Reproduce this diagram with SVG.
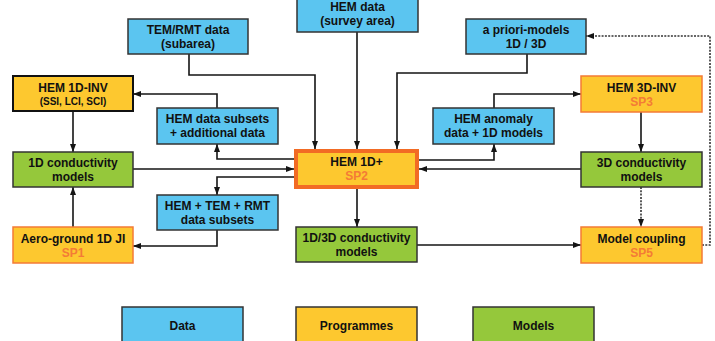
<svg xmlns="http://www.w3.org/2000/svg" width="715" height="341" viewBox="0 0 715 341">
<style>
text{font-family:"Liberation Sans",Arial,sans-serif;font-weight:bold;text-anchor:middle;fill:#111}
.t{font-size:12px}
.s{font-size:10px}
.sp{font-size:12px;fill:#F47B36}
.lg{font-size:12px}
.data{fill:#5BC5F0;stroke:#333;stroke-width:1.5}
.model{fill:#95C83B;stroke:#333;stroke-width:1.5}
.prog{fill:#FDC82F;stroke:#F47B36;stroke-width:1.5}
.c{fill:none;stroke:#151515;stroke-width:1.6}
.d{fill:none;stroke:#333;stroke-width:1.6;stroke-dasharray:2 1.3}
</style>
<defs>
<marker id="a" viewBox="0 0 8 8" refX="8" refY="4" markerWidth="8" markerHeight="8" markerUnits="userSpaceOnUse" orient="auto"><path d="M0,1 L8,4 L0,7 z" fill="#151515"/></marker>
</defs>
<rect width="715" height="341" fill="#fff"/>
<g id="connectors">
<path class="c" d="M189,54 V75 H315 V149" marker-end="url(#a)"/>
<path class="c" d="M357,32 V149" marker-end="url(#a)"/>
<path class="c" d="M527,54 V73 H397 V149" marker-end="url(#a)"/>
<path class="c" d="M217,108 V94 H133" marker-end="url(#a)"/>
<path class="c" d="M73,111 V152" marker-end="url(#a)"/>
<path class="c" d="M294,159 H217 V144" marker-end="url(#a)"/>
<path class="c" d="M133,169 H294" marker-end="url(#a)"/>
<path class="c" d="M294,177 H217 V195" marker-end="url(#a)"/>
<path class="c" d="M217,230 V246 H133" marker-end="url(#a)"/>
<path class="c" d="M73,227 V187" marker-end="url(#a)"/>
<path class="c" d="M357,189 V227" marker-end="url(#a)"/>
<path class="c" d="M417,245 H581" marker-end="url(#a)"/>
<path class="c" d="M419,160 H494 V144" marker-end="url(#a)"/>
<path class="c" d="M494,108 V94 H581" marker-end="url(#a)"/>
<path class="c" d="M641,112 V152" marker-end="url(#a)"/>
<path class="c" d="M581,169 H419" marker-end="url(#a)"/>
<path class="d" d="M641,187 V227" marker-end="url(#a)"/>
<path class="d" d="M702,245 H710 V36 H586" marker-end="url(#a)"/>
</g>
<g id="hem-survey"><rect class="data" x="297" y="-3" width="121" height="35"/><text class="t" x="357.5" y="11">HEM data</text><text class="t" x="357.5" y="25">(survey area)</text></g>
<g id="tem-rmt"><rect class="data" x="128" y="19" width="120" height="35"/><text class="t" x="188" y="34">TEM/RMT data</text><text class="t" x="188" y="48">(subarea)</text></g>
<g id="apriori"><rect class="data" x="466" y="19" width="120" height="35"/><text class="t" x="526" y="34">a priori-models</text><text class="t" x="526" y="48">1D / 3D</text></g>
<g id="hem-1d-inv"><rect x="13" y="76" width="120" height="35" fill="#FDC82F" stroke="#111" stroke-width="2"/><text class="t" x="73" y="92">HEM 1D-INV</text><text class="s" x="73" y="105">(SSI, LCI, SCI)</text></g>
<g id="hem-subsets"><rect class="data" x="157" y="108" width="121" height="36"/><text class="t" x="217.5" y="123">HEM data subsets</text><text class="t" x="217.5" y="137">+ additional data</text></g>
<g id="hem-anomaly"><rect class="data" x="433" y="108" width="121" height="36"/><text class="t" x="493.5" y="123">HEM anomaly</text><text class="t" x="493.5" y="137">data + 1D models</text></g>
<g id="hem-3d-inv"><rect class="prog" x="581" y="76" width="121" height="36"/><text class="t" x="641.5" y="92">HEM 3D-INV</text><text class="sp" x="641.5" y="106">SP3</text></g>
<g id="cond-1d"><rect class="model" x="13" y="152" width="120" height="35"/><text class="t" x="73" y="167">1D conductivity</text><text class="t" x="73" y="181">models</text></g>
<g id="hem-1d-plus"><rect x="296" y="151" width="121" height="36" fill="#FDC82F" stroke="#F26B24" stroke-width="4"/><text class="t" x="356.5" y="166">HEM 1D+</text><text class="sp" x="356.5" y="180">SP2</text></g>
<g id="cond-3d"><rect class="model" x="581" y="152" width="121" height="35"/><text class="t" x="641.5" y="167">3D conductivity</text><text class="t" x="641.5" y="181">models</text></g>
<g id="hem-tem-rmt"><rect class="data" x="157" y="195" width="121" height="35"/><text class="t" x="217.5" y="210">HEM + TEM + RMT</text><text class="t" x="217.5" y="224">data subsets</text></g>
<g id="aero-ground"><rect class="prog" x="13" y="227" width="120" height="36"/><text class="t" x="73" y="243">Aero-ground 1D JI</text><text class="sp" x="73" y="257">SP1</text></g>
<g id="cond-1d3d"><rect class="model" x="296" y="227" width="121" height="35"/><text class="t" x="356.5" y="242">1D/3D conductivity</text><text class="t" x="356.5" y="256">models</text></g>
<g id="model-coupling"><rect class="prog" x="581" y="227" width="121" height="36"/><text class="t" x="641.5" y="243">Model coupling</text><text class="sp" x="641.5" y="257">SP5</text></g>
<g id="legend-data"><rect class="data" x="122" y="307" width="121" height="40"/><text class="lg" x="182.5" y="330">Data</text></g>
<g id="legend-prog"><rect x="296" y="307" width="121" height="40" fill="#FDC82F" stroke="#333" stroke-width="1.5"/><text class="lg" x="356.5" y="330">Programmes</text></g>
<g id="legend-models"><rect class="model" x="473" y="307" width="121" height="40"/><text class="lg" x="533.5" y="330">Models</text></g>
</svg>
